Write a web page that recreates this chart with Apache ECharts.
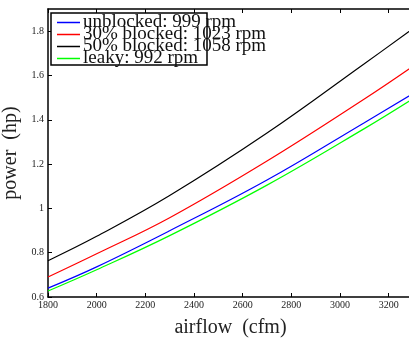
<!DOCTYPE html>
<html>
<head>
<meta charset="utf-8">
<script src="https://cdn.jsdelivr.net/npm/echarts@6/dist/echarts.min.js"></script>
<style>
  html, body { margin: 0; padding: 0; background: #fff; }
  #chart { width: 409px; height: 339px; }
</style>
</head>
<body>
<div id="chart"></div>
<script>
// Fan power versus airflow for four filter conditions
const airflow   = [1800, 2000, 2300, 2700, 3100, 3300];
const unblocked = [0.640, 0.736, 0.899, 1.128, 1.387, 1.518];
const blocked30 = [0.690, 0.795, 0.958, 1.214, 1.494, 1.642];
const blocked50 = [0.764, 0.874, 1.058, 1.340, 1.653, 1.811];
const leaky     = [0.627, 0.723, 0.877, 1.105, 1.360, 1.495];

const seriesNames = [
  'unblocked: 999 rpm',
  '30% blocked: 1023 rpm',
  '50% blocked: 1058 rpm',
  'leaky: 992 rpm'
];
const seriesValues = [unblocked, blocked30, blocked50, leaky];
const seriesColors = ['#0000ff', '#ff0000', '#000000', '#00ff00'];

const serif = '"Liberation Serif", "DejaVu Serif", serif';

const chart = echarts.init(document.getElementById('chart'), null, { renderer: 'canvas' });

const axisLine = { show: true, lineStyle: { color: '#000', width: 1.5 } };

chart.setOption({
  animation: false,
  backgroundColor: '#fff',
  grid: { left: 48, right: -4, top: 9, bottom: 42, containLabel: false, outerBoundsMode: 'none' },
  xAxis: [
    {
      type: 'value', min: 1800, max: 3300, interval: 200,
      position: 'bottom',
      name: 'airflow  (cfm)', nameLocation: 'middle', nameGap: 21,
      nameTextStyle: { fontFamily: serif, fontSize: 20, color: '#222' },
      axisLine: axisLine,
      axisTick: { show: true, inside: true, length: 4, lineStyle: { color: '#000' } },
      axisLabel: {
        fontFamily: serif, fontSize: 10, color: '#222', margin: 3,
        showMaxLabel: false,
        formatter: v => String(v)
      },
      splitLine: { show: false }
    },
    {
      type: 'value', min: 1800, max: 3300, interval: 200,
      position: 'top',
      axisLine: axisLine,
      axisTick: { show: true, inside: true, length: 4, lineStyle: { color: '#000' } },
      axisLabel: { show: false },
      splitLine: { show: false }
    }
  ],
  yAxis: {
    type: 'value', min: 0.6, max: 1.9, interval: 0.2,
    name: 'power  (hp)', nameLocation: 'middle', nameGap: 20,
    nameTextStyle: { fontFamily: serif, fontSize: 20, color: '#222' },
    axisLine: axisLine,
    axisTick: { show: true, inside: true, length: 4, lineStyle: { color: '#000' } },
    axisLabel: {
      fontFamily: serif, fontSize: 10, color: '#222', margin: 4,
      showMaxLabel: false,
      formatter: v => (Math.round(v * 10) / 10).toString()
    },
    splitLine: { show: false }
  },
  legend: {
    orient: 'vertical', left: 57, top: 13, padding: 0, itemGap: -7,
    itemWidth: 23, itemHeight: 1.5, icon: 'rect', z: 6,
    textStyle: { fontFamily: serif, fontSize: 19, color: '#111', padding: [0, 0, 0, -2] },
    data: seriesNames
  },
  graphic: [{
    type: 'rect', z: 5, silent: true,
    shape: { x: 51, y: 13, width: 156, height: 52 },
    style: { fill: '#fff', stroke: '#000', lineWidth: 1.5 }
  }],
  series: seriesNames.map((name, i) => ({
    name: name,
    type: 'line',
    smooth: 0.4,
    showSymbol: false,
    symbol: 'none',
    color: seriesColors[i],
    lineStyle: { width: 1.2, color: seriesColors[i] },
    data: airflow.map((x, j) => [x, seriesValues[i][j]])
  }))
});
</script>
</body>
</html>
